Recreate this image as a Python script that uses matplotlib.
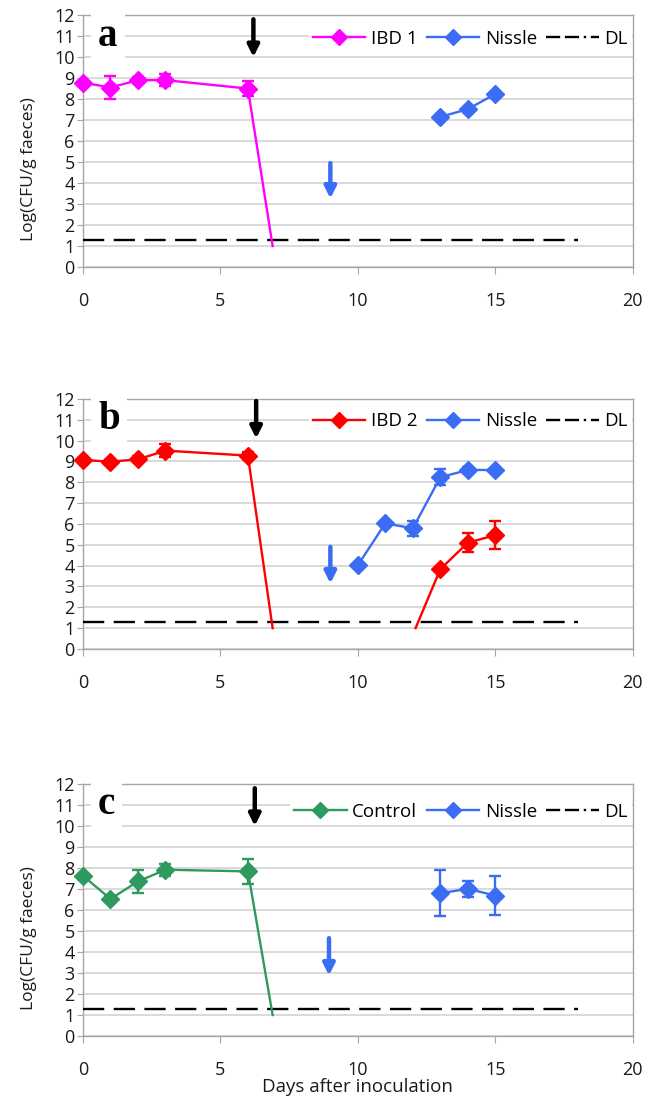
import numpy as np
import matplotlib
matplotlib.use("Agg")
import matplotlib.pyplot as plt

plt.rcParams['font.family'] = ['Open Sans', 'DejaVu Sans']

# ---- data ----
dl_value = 1.3
dl_days = [0, 18]

# panel a
ibd1_days = [0, 1, 2, 3, 6, 6.9]
ibd1_vals = [8.78, 8.55, 8.9, 8.9, 8.5, 1.0]
ibd1_err = [0.1, 0.55, 0.15, 0.3, 0.36]
nissle_a_days = [13, 14, 15]
nissle_a_vals = [7.15, 7.52, 8.24]
nissle_a_err = [0.1, 0.1, 0.1]

# panel b
ibd2_days = [0, 1, 2, 3, 6, 6.9, np.nan, 12.1, 13, 14, 15]
ibd2_vals = [9.07, 8.99, 9.1, 9.52, 9.28, 1.0, np.nan, 1.0, 3.83, 5.1, 5.46]
ibd2_err = [0.1, 0.1, 0.15, 0.32, 0.15, 0.1, 0.45, 0.68]
nissle_b_days = [10, 11, 12, 13, 14, 15]
nissle_b_vals = [4.02, 6.03, 5.79, 8.24, 8.59, 8.59]
nissle_b_err = [0.05, 0.1, 0.35, 0.38, 0.15, 0.05]

# panel c
control_days = [0, 1, 2, 3, 6, 6.9]
control_vals = [7.63, 6.53, 7.36, 7.92, 7.84, 1.0]
control_err = [0.1, 0.15, 0.53, 0.28, 0.6]
nissle_c_days = [13, 14, 15]
nissle_c_vals = [6.8, 7.01, 6.69]
nissle_c_err = [1.1, 0.37, 0.94]

# arrows: (day, start, tip)
black_arrows = [(6.2, 11.8, 10.0), (6.3, 11.9, 10.1), (6.25, 11.8, 10.0)]
blue_arrows = [(9.0, 4.95, 3.26), (9.0, 4.9, 3.14), (8.95, 4.66, 2.88)]

panel_letters = ['a', 'b', 'c']
group_labels = ['IBD 1', 'IBD 2', 'Control']
group_colors = ['#ff00ff', '#ff0000', '#2e9a5e']
nissle_color = '#3a6cf4'
grid_color = '#d9d9d9'
axis_color = '#a6a6a6'

groups = [
    (ibd1_days, ibd1_vals, ibd1_err, nissle_a_days, nissle_a_vals, nissle_a_err),
    (ibd2_days, ibd2_vals, ibd2_err, nissle_b_days, nissle_b_vals, nissle_b_err),
    (control_days, control_vals, control_err, nissle_c_days, nissle_c_vals, nissle_c_err),
]

# axes boxes in figure fraction (left, bottom, width, height)
boxes = [
    (0.1265, 0.757, 0.838, 0.2293),
    (0.1265, 0.4095, 0.838, 0.2275),
    (0.1265, 0.0573, 0.838, 0.2293),
]
legend_y = [0.905, 0.91, 0.89]

fig = plt.figure(figsize=(6.56, 10.99), dpi=100)


def draw_series(ax, days, vals, err, color, label):
    days = np.asarray(days, dtype=float)
    vals = np.asarray(vals, dtype=float)
    # markers only on measured points (the drop to the axis has none)
    drop = np.isclose(vals, 1.0) | np.isnan(vals)
    idx = [i for i in range(len(days)) if not drop[i]]
    ax.plot(days, vals, color=color, lw=1.7, marker='D', ms=9,
            markevery=idx, label=label, zorder=4, clip_on=False)
    ax.errorbar(days[idx], vals[idx], yerr=err, fmt='none', ecolor=color,
                elinewidth=1.7, capsize=4, capthick=1.7, zorder=4, clip_on=False)


for i, ax_box in enumerate(boxes):
    ax = fig.add_axes(ax_box)
    g_days, g_vals, g_err, n_days, n_vals, n_err = groups[i]

    ax.set_xlim(0, 20)
    ax.set_ylim(0, 12)
    ax.set_xticks([0, 5, 10, 15, 20])
    ax.set_yticks(range(0, 13))
    ax.yaxis.grid(True, color=grid_color, lw=1.4)
    ax.set_axisbelow(True)
    for s in ax.spines.values():
        s.set_color(axis_color)
        s.set_linewidth(1.0)
    ax.tick_params(axis='x', length=5, color=axis_color, pad=13,
                   labelsize=13, labelcolor='#1a1a1a')
    ax.tick_params(axis='y', length=4, color=axis_color, pad=2,
                   labelsize=13, labelcolor='#1a1a1a')

    draw_series(ax, g_days, g_vals, g_err, group_colors[i], group_labels[i])
    draw_series(ax, n_days, n_vals, n_err, nissle_color, 'Nissle')
    ax.plot(dl_days, [dl_value, dl_value], color='black', lw=1.7,
            dashes=(9, 4), label='DL', zorder=3)

    bx, by0, by1 = black_arrows[i]
    ax.annotate('', xy=(bx, by1), xytext=(bx, by0),
                arrowprops=dict(arrowstyle='-|>', color='black', lw=3.2,
                                mutation_scale=17, shrinkA=0, shrinkB=0))
    nx, ny0, ny1 = blue_arrows[i]
    ax.annotate('', xy=(nx, ny1), xytext=(nx, ny0),
                arrowprops=dict(arrowstyle='-|>', color=nissle_color, lw=3.2,
                                mutation_scale=17, shrinkA=0, shrinkB=0))

    ax.text(0.55, 10.55, panel_letters[i], family='Liberation Serif',
            fontweight='bold', fontsize=28, ha='left', va='baseline',
            bbox=dict(fc='white', ec='none', pad=5), zorder=5)

    leg = ax.legend(loc='center right', bbox_to_anchor=(1.0, legend_y[i]),
                    ncol=3, fontsize=13.5, frameon=True, fancybox=False,
                    borderaxespad=0.05, borderpad=0.2, handlelength=2.8,
                    handletextpad=0.3, columnspacing=0.5, numpoints=1,
                    markerscale=0.85)
    leg.get_frame().set_facecolor('white')
    leg.get_frame().set_edgecolor('none')
    leg.get_frame().set_alpha(1)
    # legend swatch of the detection limit is drawn dash-dash-dot
    leg.get_lines()[2].set_dashes([6, 2, 6, 2, 1, 2])

    if i != 1:
        ax.set_ylabel('Log(CFU/g faeces)', fontsize=12.5, color='#1a1a1a')
        ax.yaxis.set_label_coords(-0.083, 0.39)
    if i == 2:
        ax.set_xlabel('Days after inoculation', fontsize=13.5, color='#1a1a1a',
                      labelpad=-1)

fig.savefig('out.png', dpi=100)
